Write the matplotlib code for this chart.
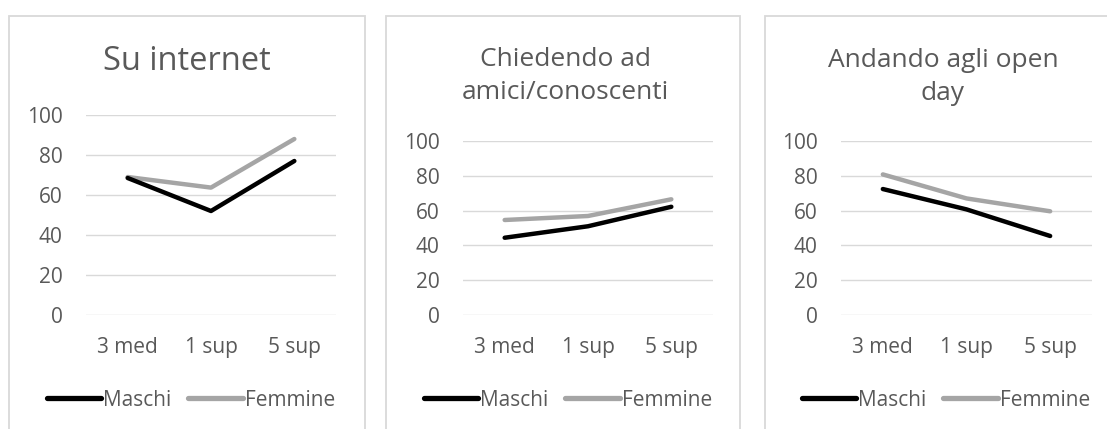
import matplotlib
matplotlib.use("Agg")
import matplotlib.pyplot as plt
from matplotlib.patches import Rectangle

plt.rcParams['font.family'] = ['Open Sans', 'DejaVu Sans']

categories = ["3 med", "1 sup", "5 sup"]
series_names = ["Maschi", "Femmine"]
titles = ["Su internet", "Chiedendo ad\namici/conoscenti", "Andando agli open\nday"]
maschi = [
    [68.5, 52, 77],
    [44.4, 51, 62.2],
    [72.4, 60.7, 45.4],
]
femmine = [
    [69, 63.7, 88],
    [54.6, 56.9, 66.5],
    [80.8, 67, 59.6],
]
yticks = [0, 20, 40, 60, 80, 100]

W, H = 1107, 429
fig = plt.figure(figsize=(W / 100, H / 100), dpi=100)
TXT = "#595959"
GRID = "#d9d9d9"

def fx(px):
    return px / W

def fy(py):
    return 1 - py / H

# panel boxes (pixel coords: left, right)
boxes = [(9, 365), (386, 740), (765, 1115)]
for l, r in boxes:
    fig.patches.append(Rectangle((fx(l), fy(440)), fx(r - l), (440 - 16) / H,
                                 transform=fig.transFigure, fill=False,
                                 edgecolor=GRID, linewidth=1.3))

# axes regions (pixel): left, right, top(100), bottom(0)
axes_px = [(86, 336, 115, 315), (463, 713, 141, 315), (841, 1092, 141, 315)]
title_pos = [(187, 62, 23.5), (565, 76, 19), (943, 77, 19)]
legend_cx = [191, 568, 946]

for i in range(3):
    l, r, t, b = axes_px[i]
    ax = fig.add_axes([fx(l), fy(b), fx(r - l), (b - t) / H])
    x = list(range(len(categories)))
    ax.plot(x, maschi[i], color="black", lw=3.2, solid_capstyle="round",
            solid_joinstyle="round", label=series_names[0], zorder=3)
    ax.plot(x, femmine[i], color="#a5a5a5", lw=3.2, solid_capstyle="round",
            solid_joinstyle="round", label=series_names[1], zorder=2)
    ax.set_xlim(-0.5, 2.5)
    ax.set_ylim(0, 100)
    ax.set_yticks(yticks)
    ax.set_xticks(x)
    ax.set_xticklabels(categories)
    ax.grid(axis="y", color=GRID, lw=1.0)
    ax.set_axisbelow(True)
    for s in ax.spines.values():
        s.set_visible(False)
    ax.tick_params(axis="both", length=0, labelsize=15, labelcolor=TXT)
    ax.tick_params(axis="y", pad=17)
    ax.tick_params(axis="x", pad=16)
    ax.patch.set_alpha(0)

    tx, ty, fs = title_pos[i]
    fig.text(fx(tx), fy(ty), titles[i], ha="center", va="center",
             fontsize=fs, color=TXT, linespacing=1.45)

    leg = ax.legend(loc="center", bbox_to_anchor=(fx(legend_cx[i]), fy(400)),
                    bbox_transform=fig.transFigure, ncol=2, frameon=False,
                    fontsize=15, handlelength=2.6, handletextpad=0.1,
                    columnspacing=0.8, borderpad=0, labelcolor=TXT)
    for lh in leg.get_lines():
        lh.set_linewidth(3.8)

fig.savefig("out.png", dpi=100)
